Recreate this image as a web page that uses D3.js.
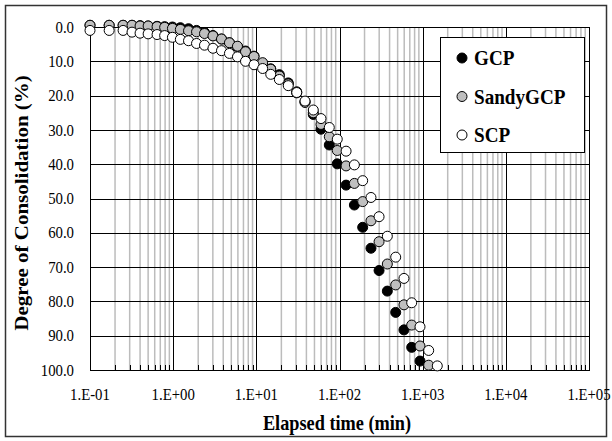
<!DOCTYPE html>
<html>
<head>
<meta charset="utf-8">
<script src="https://cdn.jsdelivr.net/npm/d3@7"></script>
<style>
  body { margin: 0; background: #fff; }
</style>
</head>
<body>
<script>
// elapsed time (min), shared by the three series
const times = [0.1, 0.17, 0.25, 0.32, 0.40, 0.50, 0.64, 0.79, 0.98, 1.22, 1.53, 1.91, 2.38, 3.01, 3.81,
  4.75, 5.93, 7.41, 9.38, 11.9, 14.9, 18.9, 24.2, 30.6, 38.5, 48.4, 59.9, 75.4, 94.0, 120, 151, 190,
  239, 299, 376, 474, 596, 738, 929, 1181, 1499];

// degree of consolidation (%)
const gcp = [-0.5, -0.5, -0.5, -0.5, -0.4, -0.3, -0.2, -0.1, 0.0, 0.2, 0.5, 1.0, 1.6, 2.5, 3.5,
  4.6, 5.7, 7.0, 8.5, 10.6, 12.2, 13.9, 16.3, 18.9, 21.8, 25.5, 29.8, 34.4, 39.9, 46.1, 51.9, 58.4,
  64.5, 71.0, 77.0, 83.2, 88.3, 93.4, 97.4];
const sandyGcp = [-0.5, -0.5, -0.5, -0.5, -0.3, -0.3, -0.1, 0.1, 0.4, 0.7, 1.1, 1.4, 1.9, 2.6, 3.5,
  4.6, 5.6, 7.2, 8.6, 10.4, 12.3, 14.3, 16.6, 19.2, 22.0, 25.0, 28.4, 32.0, 36.0, 40.5, 45.6, 50.9,
  56.5, 62.6, 69.1, 75.2, 81.0, 86.9, 93.0, 98.6];
const scp = [1.0, 1.0, 1.0, 1.5, 1.8, 2.0, 2.2, 2.5, 3.0, 3.6, 4.0, 4.8, 5.3, 6.2, 6.9,
  7.7, 8.7, 10.0, 11.0, 12.1, 13.8, 15.3, 17.1, 19.1, 21.6, 24.2, 26.7, 29.3, 32.7, 36.2, 40.2, 44.8,
  49.7, 55.3, 61.0, 67.1, 73.3, 80.4, 87.4, 94.3, 98.8];

const seriesNames = ["GCP", "SandyGCP", "SCP"];
const seriesFill = ["#000000", "#bfbfbf", "#ffffff"];
const xTicks = [1e-1, 1e0, 1e1, 1e2, 1e3, 1e4, 1e5];
const yTicks = [0, 10, 20, 30, 40, 50, 60, 70, 80, 90, 100];

const width = 612, height = 441;
const plot = { left: 90, top: 27, right: 589, bottom: 370 };
const squeeze = 0.87; // text in the picture is a bit narrow

const svg = d3.select("body").append("svg")
  .attr("width", width).attr("height", height)
  .attr("font-family", "'Liberation Serif', 'Times New Roman', serif");

const x = d3.scaleLog().domain([0.1, 1e5]).range([plot.left, plot.right]);
const y = d3.scaleLinear().domain([0, 100]).range([plot.top, plot.bottom]);

// outer frame
svg.append("rect")
  .attr("x", 5.5).attr("y", 5.5).attr("width", 601).attr("height", 431)
  .attr("fill", "#fff").attr("stroke", "#333").attr("stroke-width", 1.5);

// minor vertical grid
const minor = [];
for (let e = -1; e < 5; e++) {
  for (let k = 2; k <= 9; k++) minor.push(k * Math.pow(10, e));
}
svg.append("g").selectAll("line").data(minor).join("line")
  .attr("x1", d => x(d)).attr("x2", d => x(d))
  .attr("y1", plot.top).attr("y2", plot.bottom)
  .attr("stroke", "#bcbcbc").attr("stroke-width", 1.5);

// minor ticks on the bottom axis
svg.append("g").selectAll("line").data(minor).join("line")
  .attr("x1", d => Math.round(x(d)) + 0.5).attr("x2", d => Math.round(x(d)) + 0.5)
  .attr("y1", plot.bottom - 5).attr("y2", plot.bottom)
  .attr("stroke", "#000");

// major grid
svg.append("g").selectAll("line").data(xTicks).join("line")
  .attr("x1", d => Math.round(x(d)) + 0.5).attr("x2", d => Math.round(x(d)) + 0.5)
  .attr("y1", plot.top).attr("y2", plot.bottom)
  .attr("stroke", "#000");
svg.append("g").selectAll("line").data(yTicks).join("line")
  .attr("x1", plot.left).attr("x2", plot.right)
  .attr("y1", d => Math.round(y(d)) + 0.5).attr("y2", d => Math.round(y(d)) + 0.5)
  .attr("stroke", "#000");

svg.append("rect")
  .attr("x", plot.left + 0.5).attr("y", plot.top + 0.5)
  .attr("width", plot.right - plot.left).attr("height", plot.bottom - plot.top)
  .attr("fill", "none").attr("stroke", "#000");

// tick labels
const expLabel = d => {
  const e = Math.round(Math.log10(d));
  return "1.E" + (e < 0 ? "-" : "+") + String(Math.abs(e)).padStart(2, "0");
};
svg.append("g").selectAll("text").data(xTicks).join("text")
  .attr("transform", d => "translate(" + x(d) + ",400) scale(" + squeeze + ",1)")
  .attr("text-anchor", "middle").attr("font-size", 17)
  .text(expLabel);

svg.append("g").selectAll("text").data(yTicks).join("text")
  .attr("transform", d => "translate(74," + y(d) + ") scale(" + squeeze + ",1)")
  .attr("text-anchor", "end").attr("dy", "0.33em").attr("font-size", 17)
  .text(d => d3.format(".1f")(d));

// axis titles
svg.append("text")
  .attr("transform", "translate(337,430) scale(" + squeeze + ",1)")
  .attr("text-anchor", "middle").attr("font-size", 21).attr("font-weight", "bold")
  .text("Elapsed time (min)");

svg.append("text")
  .attr("transform", "translate(28,203) scale(" + squeeze + ",1) rotate(-90)")
  .attr("text-anchor", "middle").attr("font-size", 21).attr("font-weight", "bold")
  .text("Degree of Consolidation (%)");

// points: GCP under SandyGCP under SCP
const allSeries = [gcp, sandyGcp, scp];
allSeries.forEach((vals, i) => {
  svg.append("g").selectAll("circle").data(vals).join("circle")
    .attr("cx", (d, j) => x(times[j]))
    .attr("cy", d => y(d))
    .attr("r", 5)
    .attr("fill", seriesFill[i])
    .attr("stroke", "#000").attr("stroke-width", 1);
});

// legend
const legend = svg.append("g");
legend.append("rect")
  .attr("x", 440.5).attr("y", 37.5).attr("width", 144).attr("height", 115)
  .attr("fill", "#fff").attr("stroke", "#000");
const rows = legend.selectAll("g").data(seriesNames).join("g")
  .attr("transform", (d, i) => "translate(462," + (58 + i * 38.5) + ")");
rows.append("circle")
  .attr("r", 5)
  .attr("fill", (d, i) => seriesFill[i])
  .attr("stroke", "#000");
rows.append("text")
  .attr("transform", "translate(12,0) scale(" + squeeze + ",1)")
  .attr("dy", "0.34em").attr("font-size", 22).attr("font-weight", "bold")
  .text(d => d);
</script>
</body>
</html>
